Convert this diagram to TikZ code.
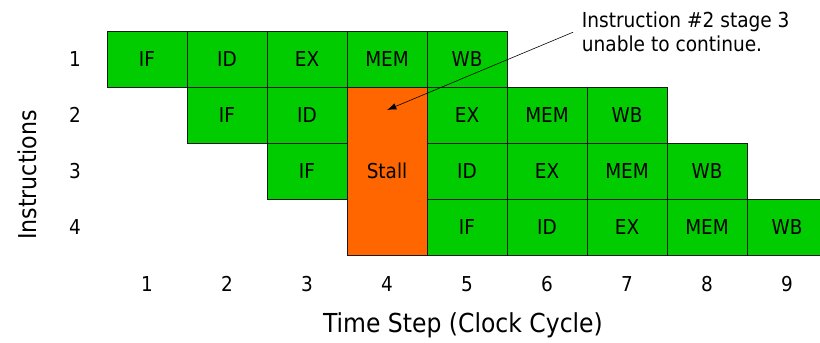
\documentclass[tikz,border=0pt]{standalone}
\usepackage{fontspec}
\setmainfont{DejaVu Sans Condensed}
\usetikzlibrary{arrows.meta}
\definecolor{stagegreen}{RGB}{0,204,0}
\definecolor{stallorange}{RGB}{255,102,0}
\tikzset{
  stage/.style={rectangle,draw=black!90,line width=0.6pt,fill=stagegreen,minimum width=2.4cm,minimum height=1.68cm,inner sep=0pt,font=\fontsize{17.5}{21}\selectfont},
  stallbox/.style={stage,fill=stallorange,minimum height=5.04cm},
  ticklabel/.style={font=\fontsize{17.5}{21}\selectfont,text=black,anchor=center},
  axislabel/.style={font=\fontsize{21}{25}\selectfont,text=black,anchor=center}
}
\begin{document}
\begin{tikzpicture}[x=0.03cm,y=-0.03cm]
\useasboundingbox (0,0) rectangle (820,343);
\begin{scope}
\clip (0,0) rectangle (820,343);
% instruction 1
\node[stage] (r1c1) at (147,59) {IF};
\node[stage] (r1c2) at (227,59) {ID};
\node[stage] (r1c3) at (307,59) {EX};
\node[stage] (r1c4) at (387,59) {MEM};
\node[stage] (r1c5) at (467,59) {WB};
% instruction 2
\node[stage] (r2c2) at (227,115) {IF};
\node[stage] (r2c3) at (307,115) {ID};
\node[stage] (r2c5) at (467,115) {EX};
\node[stage] (r2c6) at (547,115) {MEM};
\node[stage] (r2c7) at (627,115) {WB};
% instruction 3
\node[stage] (r3c3) at (307,171) {IF};
\node[stage] (r3c5) at (467,171) {ID};
\node[stage] (r3c6) at (547,171) {EX};
\node[stage] (r3c7) at (627,171) {MEM};
\node[stage] (r3c8) at (707,171) {WB};
% instruction 4
\node[stage] (r4c5) at (467,227) {IF};
\node[stage] (r4c6) at (547,227) {ID};
\node[stage] (r4c7) at (627,227) {EX};
\node[stage] (r4c8) at (707,227) {MEM};
\node[stage] (r4c9) at (787,227) {WB};
% the stall over cycle 4
\node[stallbox] (stall) at (387,171) {Stall};
\end{scope}

% instruction numbers
\node[ticklabel] (i1) at (75,59) {1};
\node[ticklabel] (i2) at (75,115) {2};
\node[ticklabel] (i3) at (75,171) {3};
\node[ticklabel] (i4) at (75,227) {4};
\node[axislabel,rotate=90] (ilabel) at (27,175) {Instructions};

% clock cycles
\node[ticklabel] (t1) at (147,284) {1};
\node[ticklabel] (t2) at (227,284) {2};
\node[ticklabel] (t3) at (307,284) {3};
\node[ticklabel] (t4) at (387,284) {4};
\node[ticklabel] (t5) at (467,284) {5};
\node[ticklabel] (t6) at (547,284) {6};
\node[ticklabel] (t7) at (627,284) {7};
\node[ticklabel] (t8) at (707,284) {8};
\node[ticklabel] (t9) at (787,284) {9};
\node[axislabel,font=\fontsize{22.3}{26}\selectfont] (tlabel) at (463,325) {Time Step (Clock Cycle)};

% note on the stall
\node[font=\fontsize{17.6}{20.5}\selectfont,align=left,anchor=north west,inner sep=0pt] (note) at (581.7,12) {Instruction \#2 stage 3\\unable to continue.};
\coordinate (stalltip) at (387,110);
\draw[line width=0.5pt,-{Latex[length=8pt,width=5.5pt]}] ([xshift=-0.26cm]note.west) -- (stalltip);
\end{tikzpicture}
\end{document}
